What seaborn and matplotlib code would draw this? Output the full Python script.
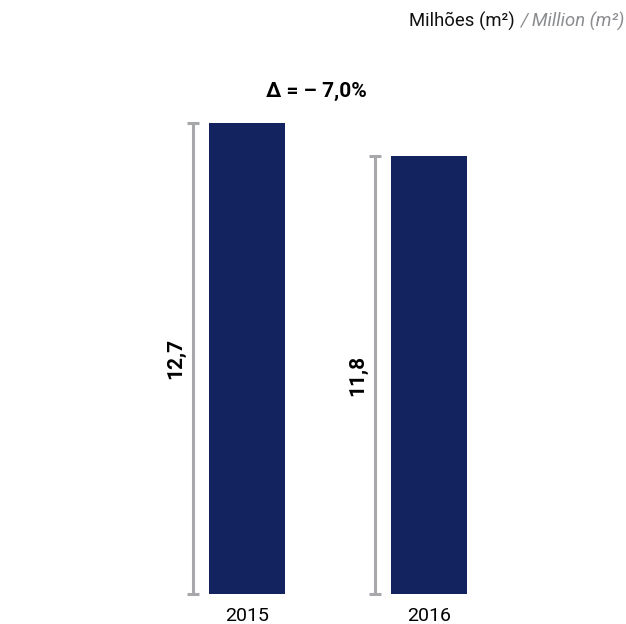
import matplotlib
matplotlib.use("Agg")
import matplotlib.pyplot as plt
import seaborn as sns
import pandas as pd

years = ["2015", "2016"]
values = [12.7, 11.8]
value_labels = ["12,7", "11,8"]
delta_label = "\u0394 = \u2013 7,0%"

sns.set_style("white")
plt.rcParams['font.family'] = ['Roboto', 'DejaVu Sans']

W, H = 626, 624
fig = plt.figure(figsize=(W / 100, H / 100), dpi=100)
ax = fig.add_axes([0, 0, 1, 1])

df = pd.DataFrame({"year": years, "value": values})
bar_color = "#13235F"
sns.barplot(data=df, x="year", y="value", color=bar_color, width=76 / 182,
            saturation=1, ax=ax, errorbar=None, linewidth=0)

px_x = 182.0   # pixels per category unit
px_y = 37.09   # pixels per value unit
c0 = 247.0     # pixel center of first bar
base = 30.0    # baseline pixels from bottom
ax.set_xlim(-c0 / px_x, (W - c0) / px_x)
ax.set_ylim(-base / px_y, (H - base) / px_y)
ax.axis("off")

gray = "#A6A8AB"
off = -54 / px_x
cap = 6 / px_x
for i, v in enumerate(values):
    x = i + off
    ax.plot([x, x], [0, v], color=gray, lw=2.2, solid_capstyle="butt")
    ax.plot([x - cap, x + cap], [v, v], color=gray, lw=2.2, solid_capstyle="butt")
    ax.plot([x - cap, x + cap], [0, 0], color=gray, lw=2.2, solid_capstyle="butt")
    ax.text(i + (-71 / px_x), v / 2, value_labels[i],
            rotation=90, ha="center", va="center", fontsize=15, fontweight="bold",
            color="black")
    ax.text(i, -22 / px_y, years[i], ha="center", va="center", fontsize=14,
            color="black")

ax.text((316 - c0) / px_x, 12.7 + 32 / px_y, delta_label, ha="center", va="center",
        fontsize=15, fontweight="bold", color="black")

fig.text(515 / W, 1 - 21 / H, "Milh\u00f5es (m\u00b2)", ha="right", va="center",
         fontsize=13.3, color="#111111")
fig.text(520 / W, 1 - 21 / H, "/ Million (m\u00b2)", ha="left", va="center",
         fontsize=13.3, color="#8A8C8F", style="italic")

fig.savefig("out.png", dpi=100)
